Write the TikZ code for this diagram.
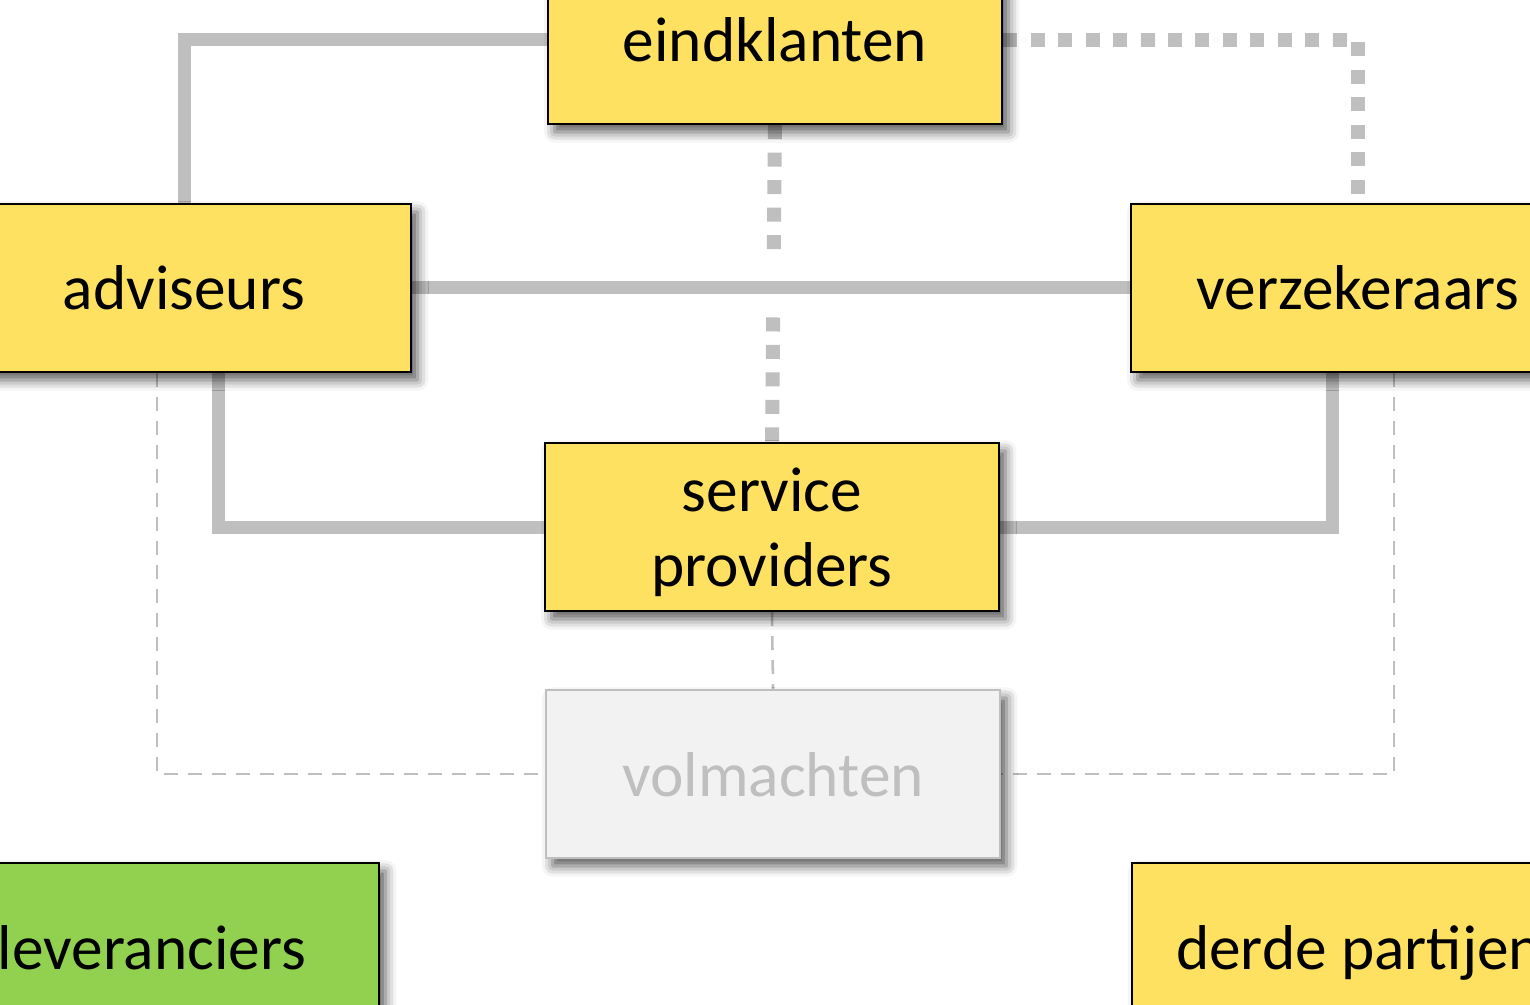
\documentclass[tikz,border=0pt]{standalone}
\usepackage{fontspec}
\setmainfont{Carlito}
\usetikzlibrary{backgrounds}
\usetikzlibrary{shadows.blur}

\definecolor{boxyellow}{HTML}{FFE161}
\definecolor{boxgreen}{HTML}{92D050}
\definecolor{linegray}{HTML}{BFBFBF}
\definecolor{volfill}{HTML}{F2F2F2}

\begin{document}
\begin{tikzpicture}[x=0.75pt,y=-0.75pt,
		party/.style={rectangle,draw=black,line width=1.8pt,fill=boxyellow,minimum width=340.5pt,minimum height=126pt,inner sep=0pt,
			font=\fontsize{47.5}{56}\selectfont,blur shadow={shadow xshift=5pt,shadow yshift=-6pt,shadow blur radius=8pt,shadow opacity=65}},
		oneline/.style={text height=33pt,text depth=0pt},
		faded/.style={party,draw=linegray,fill=volfill,text=linegray},
		link/.style={draw=linegray,line width=9.75pt},
		loose/.style={draw=linegray,line width=10.5pt,dash pattern=on 10.5pt off 10.1pt},
		weak/.style={draw=linegray,line width=1.9pt,dash pattern=on 10.5pt off 7.5pt}]
		\useasboundingbox (0,0) rectangle (1530,1005);
		\clip (0,0) rectangle (1530,1005);
		
		\node[party,oneline]  (eind)  at (775,40)   {eindklanten};
		\node[party,oneline]  (adv)   at (184,288)  {adviseurs};
		\node[party,oneline]  (verz)  at (1358,288) {verzekeraars};
		\node[party,align=center] (serv) at (772,527) {\rule{0pt}{41pt}service\\providers};
		\node[faded,oneline]  (vol)   at (773,774)  {volmachten};
		\node[party,oneline,fill=boxgreen] (lev) at (152,947) {leveranciers};
		\node[party,oneline]  (derde) at (1359,947) {derde partijen};
		
		% connectors behind the boxes
		\begin{scope}[on background layer]
		\path[loose] (eind.south) -- (serv.north);
		\path[link,preaction={draw=white,line width=43.5pt,shorten <=250pt,shorten >=250pt}] (adv.east) -- (verz.west);
		\path[link] (eind.west) -| (adv.north);
		\path[link] ([xshift=25.5pt]adv.south) |- (serv.west);
		\path[link] (serv.east) -| ([xshift=-19.5pt]verz.south);
		\path[loose] (eind.east) -| (verz.north);
		\path[weak] ([xshift=-20.25pt]adv.south) |- (vol.west);
		\path[weak] ([xshift=27pt]verz.south) |- (vol.east);
		\path[weak] (serv.south) -- (vol.north);
		\end{scope}
\end{tikzpicture}
\end{document}
